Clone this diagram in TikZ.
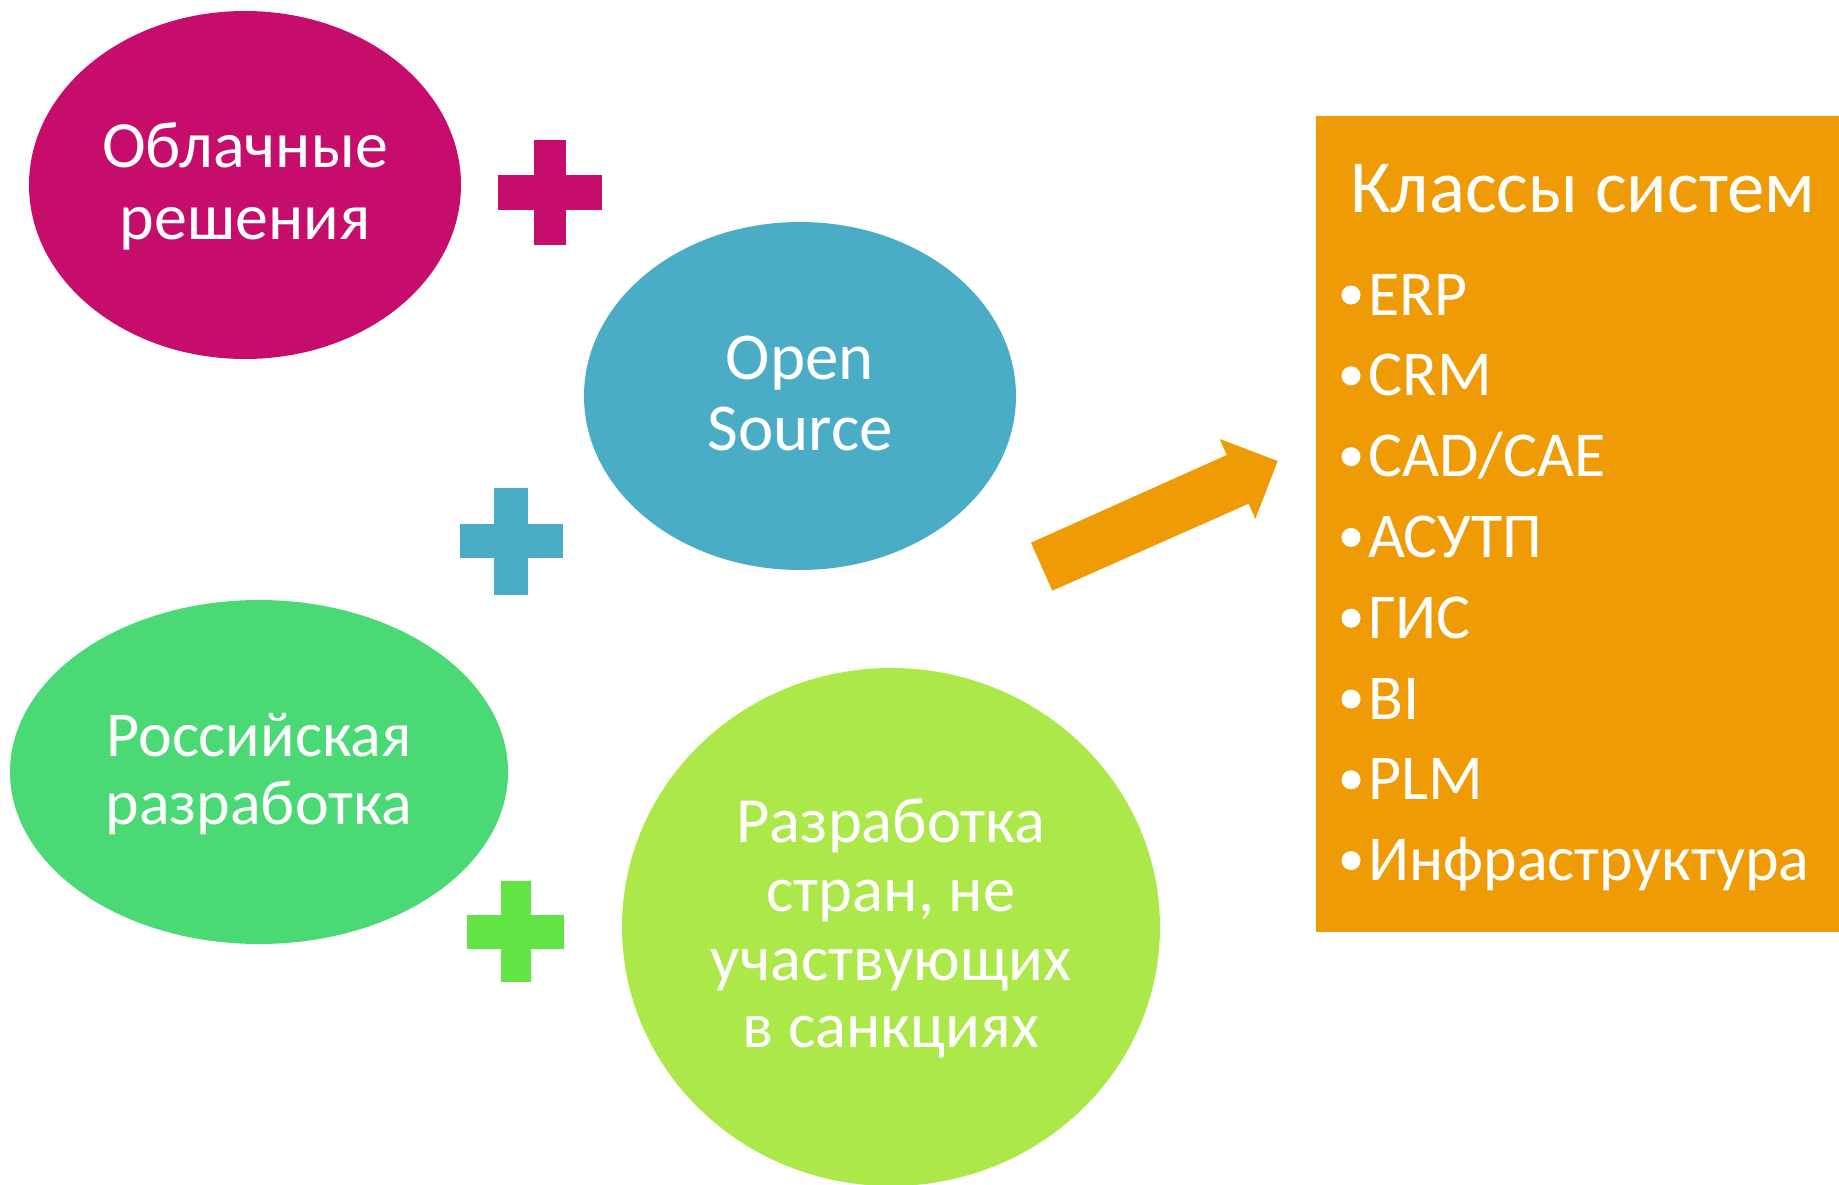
\documentclass[tikz,border=0pt]{standalone}
\usepackage{fontspec}
\setmainfont{Carlito}
\usetikzlibrary{shapes.geometric}
\definecolor{cMag}{RGB}{199,13,107}
\definecolor{cBlue}{RGB}{75,172,198}
\definecolor{cGreen}{RGB}{74,217,117}
\definecolor{cLime}{RGB}{173,232,74}
\definecolor{cPlus}{RGB}{98,227,70}
\definecolor{cOrange}{RGB}{238,155,5}
\begin{document}
\begin{tikzpicture}[x=1pt,y=-1pt,
  blob/.style={ellipse, inner sep=0pt, draw=none},
  etext/.style={text=white, font=\fontsize{67}{72}\selectfont, anchor=base, inner sep=0pt},
  item/.style={text=white, font=\fontsize{64}{70}\selectfont, anchor=base west, inner sep=0pt},
  bul/.style={circle, fill=white, minimum size=19pt, inner sep=0pt}]
\useasboundingbox (0,0) rectangle (1839,1185);

% ellipses
\node[blob, fill=cMag, minimum width=432pt, minimum height=348pt] (cloud) at (245,185) {};
\node[etext, font=\fontsize{66}{72}\selectfont] (cloud1) at (245,168) {Облачные};
\node[etext, font=\fontsize{66}{72}\selectfont] (cloud2) at (245,240) {решения};

\node[blob, fill=cBlue, minimum width=432pt, minimum height=348pt] (open) at (800,396) {};
\node[etext] (open1) at (800,379) {Open};
\node[etext] (open2) at (800,450) {Source};

\node[blob, fill=cGreen, minimum width=498pt, minimum height=344pt] (rus) at (259,772) {};
\node[etext, font=\fontsize{64}{70}\selectfont] (rus1) at (259,756) {Российская};
\node[etext, font=\fontsize{64}{70}\selectfont] (rus2) at (259,824) {разработка};

\node[blob, fill=cLime, minimum width=538pt, minimum height=518pt] (other) at (891,927) {};
\node[etext, font=\fontsize{64.5}{70}\selectfont] (other1) at (891,842) {Разработка};
\node[etext, font=\fontsize{64.5}{70}\selectfont] (other2) at (891,911) {стран, не};
\node[etext, font=\fontsize{64.5}{70}\selectfont] (other3) at (891,980) {участвующих};
\node[etext, font=\fontsize{64.5}{70}\selectfont] (other4) at (891,1047) {в санкциях};

% plus signs
\fill[cMag] (498,175) rectangle (602,210);
\fill[cMag] (534,140) rectangle (566,245);
\fill[cBlue] (460,524) rectangle (563,558);
\fill[cBlue] (494,488) rectangle (528,595);
\fill[cPlus] (467,915) rectangle (564,949);
\fill[cPlus] (501,881) rectangle (531,982);

% block arrow
\fill[cOrange] (1031,542.7) -- (1226.7,455) -- (1219.7,439) -- (1277.7,461)
  -- (1255.3,519) -- (1248.7,503.7) -- (1052.3,590.7) -- cycle;

% box
\node[rectangle, fill=cOrange, anchor=north west, minimum width=523pt, minimum height=816pt, inner sep=0pt] (box) at (1316,116) {};
\node[anchor=base west, text=white, font=\fontsize{75}{80}\selectfont, inner sep=0pt] (title) at (1350,213) {Классы систем};

\foreach \t [count=\i] in {ERP,CRM,CAD/CAE,АСУТП,ГИС,BI,PLM,Инфраструктура}{
  \pgfmathsetmacro{\yy}{315+(\i-1)*80.8}
  \node[bul] (b\i) at (1351,\yy-20) {};
  \node[item] (it\i) at (1368,\yy) {\t};
}
\end{tikzpicture}
\end{document}
